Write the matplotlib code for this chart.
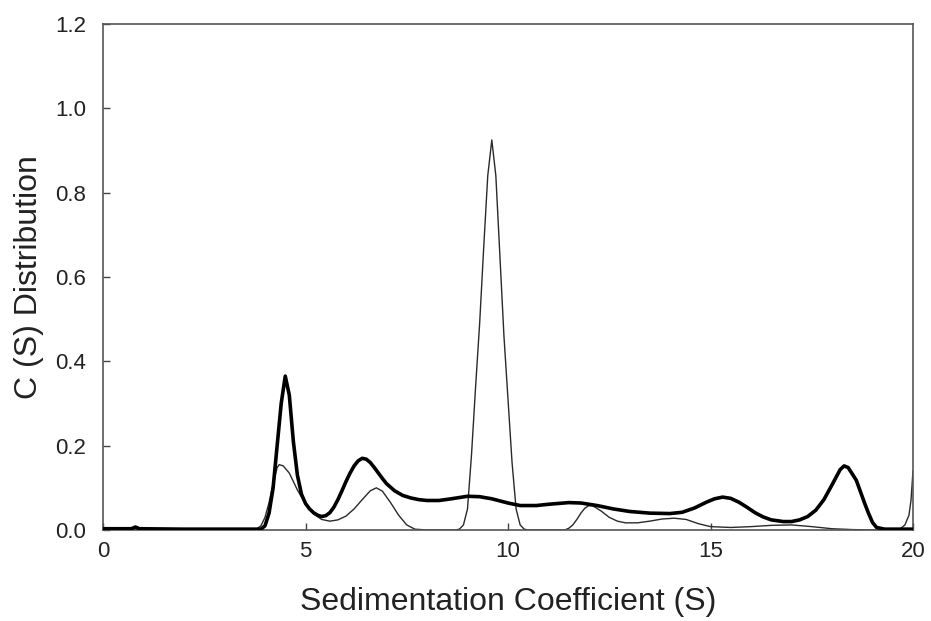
import numpy as np
import matplotlib
matplotlib.use("Agg")
import matplotlib.pyplot as plt

# thick trace: sedimentation coefficient (S) vs c(s)
thick_s = [0.0, 0.7, 0.8, 0.9, 2.0, 3.0, 3.9, 4.0, 4.1, 4.2, 4.3, 4.4, 4.5, 4.6, 4.7,
           4.8, 4.9, 5.0, 5.1, 5.2, 5.3, 5.4, 5.5, 5.6, 5.7, 5.8, 5.9, 6.0, 6.1, 6.2,
           6.3, 6.4, 6.5, 6.6, 6.7, 6.8, 6.9, 7.0, 7.2, 7.4, 7.6, 7.8, 8.0, 8.3, 8.6,
           9.0, 9.3, 9.6, 10.0, 10.3, 10.7, 11.0, 11.5, 11.8, 12.2, 12.6, 13.0, 13.5,
           14.0, 14.3, 14.6, 14.9, 15.1, 15.3, 15.5, 15.7, 15.9, 16.1, 16.3, 16.5,
           16.8, 17.0, 17.2, 17.4, 17.6, 17.8, 18.0, 18.2, 18.3, 18.4, 18.6, 18.8,
           18.9, 19.0, 19.1, 19.3, 20.0]
thick_c = [0.003, 0.003, 0.007, 0.003, 0.002, 0.002, 0.002, 0.01, 0.04, 0.10, 0.20, 0.30,
           0.365, 0.32, 0.21, 0.13, 0.085, 0.063, 0.05, 0.041, 0.035, 0.032, 0.034, 0.041,
           0.054, 0.072, 0.093, 0.115, 0.135, 0.152, 0.164, 0.170, 0.168, 0.160, 0.148,
           0.135, 0.122, 0.110, 0.093, 0.082, 0.076, 0.072, 0.070, 0.070, 0.074, 0.080,
           0.079, 0.074, 0.064, 0.058, 0.058, 0.061, 0.065, 0.064, 0.058, 0.050, 0.044,
           0.040, 0.039, 0.042, 0.052, 0.066, 0.074, 0.078, 0.075, 0.066, 0.054, 0.041,
           0.031, 0.024, 0.020, 0.020, 0.024, 0.032, 0.047, 0.072, 0.107, 0.143, 0.152,
           0.148, 0.118, 0.065, 0.040, 0.018, 0.006, 0.002, 0.002]

# thin trace
thin_s = [0.0, 3.7, 3.8, 3.9, 4.0, 4.1, 4.2, 4.3, 4.35, 4.45, 4.6, 4.8, 5.0, 5.2, 5.4,
          5.6, 5.8, 6.0, 6.2, 6.4, 6.6, 6.75, 6.9, 7.1, 7.3, 7.5, 7.7, 8.0, 8.7, 8.8,
          8.9, 9.0, 9.1, 9.2, 9.3, 9.4, 9.5, 9.6, 9.7, 9.8, 9.9, 10.0, 10.1, 10.2, 10.3,
          10.4, 10.5, 11.4, 11.5, 11.6, 11.7, 11.8, 11.9, 12.0, 12.1, 12.3, 12.5, 12.7,
          12.9, 13.2, 13.5, 13.8, 14.1, 14.4, 14.7, 15.0, 15.5, 16.0, 16.5, 17.0, 17.5,
          18.0, 18.5, 19.0, 19.6, 19.7, 19.8, 19.9, 19.95, 20.0]
thin_c = [0.0, 0.0, 0.003, 0.01, 0.03, 0.065, 0.11, 0.148, 0.155, 0.152, 0.135, 0.095,
          0.062, 0.038, 0.025, 0.021, 0.024, 0.033, 0.050, 0.072, 0.093, 0.100, 0.092,
          0.065, 0.035, 0.012, 0.002, 0.0, 0.0, 0.002, 0.012, 0.05, 0.18, 0.34, 0.49,
          0.67, 0.84, 0.925, 0.84, 0.65, 0.46, 0.31, 0.16, 0.05, 0.012, 0.002, 0.0, 0.0,
          0.004, 0.012, 0.025, 0.040, 0.052, 0.058, 0.057, 0.045, 0.030, 0.021, 0.017,
          0.017, 0.021, 0.026, 0.028, 0.025, 0.015, 0.008, 0.006, 0.008, 0.011, 0.012,
          0.008, 0.003, 0.001, 0.0, 0.0, 0.004, 0.012, 0.035, 0.07, 0.14]

x_ticks = [0, 5, 10, 15, 20]
y_ticks = [0.0, 0.2, 0.4, 0.6, 0.8, 1.0, 1.2]

plt.rcParams["font.family"] = ["Liberation Sans", "DejaVu Sans"]

fig = plt.figure(figsize=(9.31, 6.21), dpi=100)
ax = fig.add_axes([103 / 931, 1 - 530 / 621, 810 / 931, 506 / 621])

ax.plot(thin_s, thin_c, color="#2a2a2a", lw=1.0, zorder=2)
ax.plot(thick_s, thick_c, color="black", lw=2.6, zorder=3)

ax.set_xlim(0, 20)
ax.set_ylim(0, 1.2)
ax.set_xticks(x_ticks)
ax.set_yticks(y_ticks)
ax.set_yticklabels([f"{v:.1f}" for v in y_ticks])
ax.tick_params(direction="in", length=5, width=1, colors="#444444",
               labelsize=16, labelcolor="#222222", top=False, right=False)
ax.tick_params(axis="x", pad=8)
ax.tick_params(axis="y", pad=12)
for sp in ax.spines.values():
    sp.set_color("#555555")
    sp.set_linewidth(1.2)

ax.set_xlabel("Sedimentation Coefficient (S)", fontsize=23, color="#222222", labelpad=18)
ax.set_ylabel("C (S) Distribution", fontsize=23, color="#222222", labelpad=8)

fig.savefig("out.png", dpi=100)
